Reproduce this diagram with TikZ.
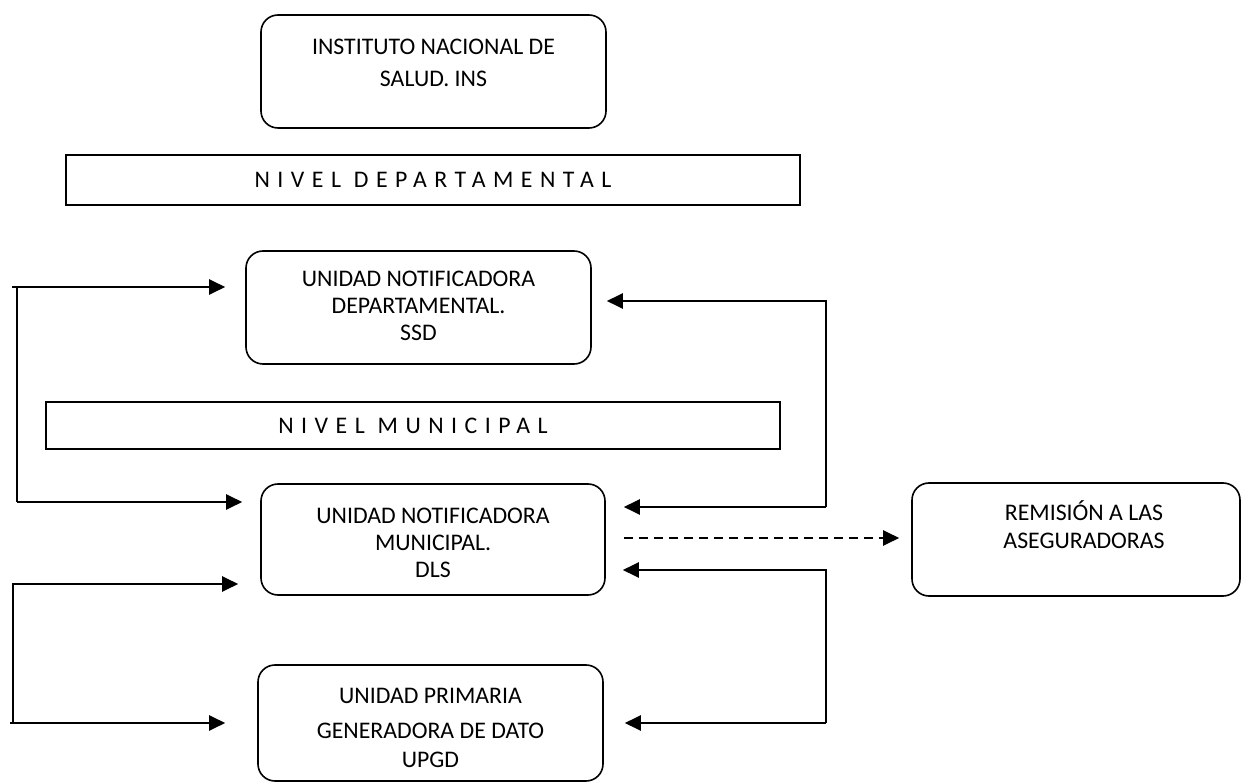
\documentclass[tikz,border=0pt]{standalone}
\usepackage{fontspec}
\setmainfont{Carlito}
\newfontfamily\spacedfont[LetterSpace=31.5]{Carlito}
\usetikzlibrary{arrows.meta}
\begin{document}
\begin{tikzpicture}[x=1pt,y=-1pt,
  rbox/.style={draw, line width=1.6pt, rounded corners=17pt, inner sep=0},
  lbox/.style={draw, line width=1.6pt, inner sep=0},
  txt/.style={anchor=base, inner sep=0, font=\fontsize{23.8}{28}\selectfont},
  ntxt/.style={inner sep=0, font=\fontsize{23.8}{28}\selectfont\spacedfont},
  arr/.style={line width=2.3pt, -{Triangle[length=16pt,width=15pt]}},
  ln/.style={line width=2.3pt},
]
\useasboundingbox (0,0) rectangle (1243,783);
% boxes
\node[rbox, minimum width=345pt, minimum height=113pt] (ins) at (433.5,71.5) {};
\node[lbox, minimum width=734pt, minimum height=50pt] (dep) at (433,180) {};
\node[rbox, minimum width=345pt, minimum height=113pt] (und) at (418.5,307.5) {};
\node[lbox, minimum width=734pt, minimum height=47pt] (mun) at (413,425.5) {};
\node[rbox, minimum width=344pt, minimum height=111pt] (unm) at (433,539.5) {};
\node[rbox, minimum width=345pt, minimum height=116pt] (upgd) at (430.5,723) {};
\node[rbox, minimum width=328pt, minimum height=113pt] (rem) at (1076,539.5) {};
% texts
\node[txt] (ins1) at (433.5,55) {INSTITUTO NACIONAL DE};
\node[txt] (ins2) at (433.5,87) {SALUD. INS};
\node[ntxt] (dept) at (dep) {NIVEL DEPARTAMENTAL};
\node[txt] (und1) at (418.5,287) {UNIDAD NOTIFICADORA};
\node[txt] (und2) at (418.5,314) {DEPARTAMENTAL.};
\node[txt] (und3) at (418.5,340.5) {SSD};
\node[ntxt] (munt) at (mun) {NIVEL MUNICIPAL};
\node[txt] (unm1) at (433,523) {UNIDAD NOTIFICADORA};
\node[txt] (unm2) at (433,550) {MUNICIPAL.};
\node[txt] (unm3) at (433,577) {DLS};
\node[txt] (upgd1) at (430.5,703) {UNIDAD PRIMARIA};
\node[txt] (upgd2) at (430.5,738) {GENERADORA DE DATO};
\node[txt] (upgd3) at (430.5,767) {UPGD};
\node[txt] (rem1) at (1084,520) {REMISIÓN A LAS};
\node[txt] (rem2) at (1084,548) {ASEGURADORAS};
% connector points
\coordinate (L1) at (12,287);
\coordinate (L1v) at (17,287);
\coordinate (L2) at (17,502);
\coordinate (R1) at (826,301);
\coordinate (R2) at (826,507);
\coordinate (L3) at (13,584);
\coordinate (L4) at (13,723);
\coordinate (L4s) at (10,723);
\coordinate (R3) at (826,570);
\coordinate (R4) at (826,723);
% left upper loop
\draw[arr, shorten >=20pt] (L1) -- (L1 -| und.west);
\draw[ln] (L1v) -- (L2);
\draw[arr, shorten >=18pt] (L2) -- (L2 -| unm.west);
% right upper loop
\draw[arr, shorten >=15pt] (R2) -- (R1) -- (R1 -| und.east);
\draw[arr, shorten >=18pt] (R2) -- (R2 -| unm.east);
% left lower loop
\draw[arr, shorten >=22pt] (L4) -- (L3) -- (L3 -| unm.west);
\draw[arr, shorten >=32pt] (L4s) -- (L4s -| upgd.west);
% right lower loop
\draw[arr, shorten >=17pt] (R4) -- (R3) -- (R3 -| unm.east);
\draw[arr, shorten >=21pt] (R4) -- (R4 -| upgd.east);
% dashed to insurers
\draw[arr, dash pattern=on 9pt off 6pt, shorten <=18pt, shorten >=12pt] (unm.east |- 0,538) -- (rem.west |- 0,538);
\end{tikzpicture}
\end{document}
